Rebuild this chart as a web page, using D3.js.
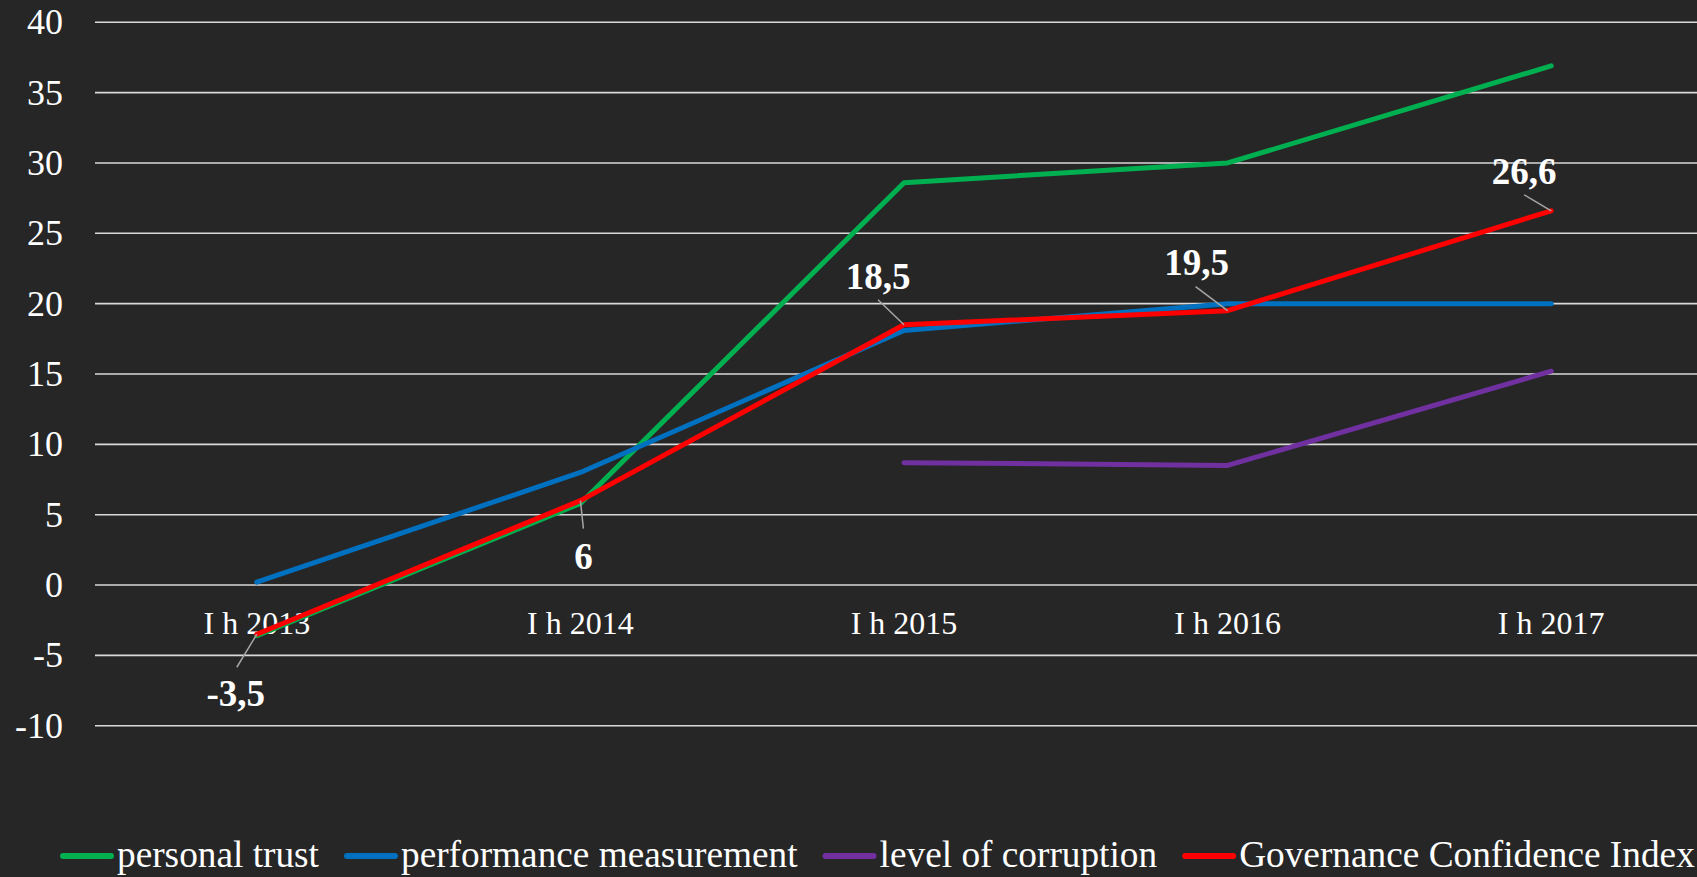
<!DOCTYPE html>
<html>
<head>
<meta charset="utf-8">
<script src="https://cdn.jsdelivr.net/npm/d3@7"></script>
<style>
  html, body { margin: 0; padding: 0; background: #262626; overflow: hidden; }
  svg { display: block; font-family: "Liberation Serif", "Times New Roman", serif; }
</style>
</head>
<body>
<script>
const categories = ["I h 2013", "I h 2014", "I h 2015", "I h 2016", "I h 2017"];
const personalTrust = [-3.6, 5.8, 28.6, 30, 36.9];
const performanceMeasurement = [0.2, 8, 18.1, 20, 20];
const levelOfCorruption = [null, null, 8.7, 8.5, 15.2];
const governanceIndex = [-3.5, 6, 18.5, 19.5, 26.6];
const governanceLabels = ["-3,5", "6", "18,5", "19,5", "26,6"];
const yTicks = [-10, -5, 0, 5, 10, 15, 20, 25, 30, 35, 40];

const seriesNames = ["personal trust", "performance measurement", "level of corruption", "Governance Confidence Index"];
const seriesColors = ["#00b050", "#0070c0", "#7030a0", "#ff0000"];
const seriesValues = [personalTrust, performanceMeasurement, levelOfCorruption, governanceIndex];

// label placement relative to the point: [dx, dy] of text, [dx, dy] of leader start
const labelOffsets = [
  [-21, 72, -20, 33],
  [3, 68, 3, 28],
  [-26, -36, -26, -25],
  [-31, -36, -32, -24],
  [-27, -27, -27, -16]
];

const width = 1697;
const height = 877;
const margin = { top: 22.3, left: 95, right: -16, bottom: 151.3 };

const svg = d3.select("body").append("svg")
  .attr("width", width)
  .attr("height", height);

svg.append("rect").attr("width", width).attr("height", height).attr("fill", "#262626");

const x = d3.scalePoint()
  .domain(categories)
  .range([margin.left, width - margin.right])
  .padding(0.5);

const y = d3.scaleLinear()
  .domain([-10, 40])
  .range([height - margin.bottom, margin.top]);

// grid
svg.append("g")
  .selectAll("line")
  .data(yTicks)
  .join("line")
  .attr("x1", margin.left)
  .attr("x2", width - margin.right)
  .attr("y1", d => y(d))
  .attr("y2", d => y(d))
  .attr("stroke", "#d9d9d9")
  .attr("stroke-width", 1.6);

// y tick labels
svg.append("g")
  .selectAll("text")
  .data(yTicks)
  .join("text")
  .attr("x", 63)
  .attr("y", d => y(d) + 12)
  .attr("text-anchor", "end")
  .attr("fill", "#ffffff")
  .attr("font-size", 36)
  .text(d => d);

// category labels
svg.append("g")
  .selectAll("text")
  .data(categories)
  .join("text")
  .attr("x", d => x(d))
  .attr("y", y(0) + 48.5)
  .attr("text-anchor", "middle")
  .attr("fill", "#ffffff")
  .attr("font-size", 32)
  .text(d => d);

const line = d3.line()
  .defined(d => d[1] != null)
  .x(d => x(d[0]))
  .y(d => y(d[1]));

svg.append("g")
  .selectAll("path")
  .data(seriesValues)
  .join("path")
  .attr("d", vals => line(vals.map((v, i) => [categories[i], v])))
  .attr("fill", "none")
  .attr("stroke", (d, i) => seriesColors[i])
  .attr("stroke-width", 5)
  .attr("stroke-linecap", "round")
  .attr("stroke-linejoin", "round");

// data labels for the index
const lbl = svg.append("g");
lbl.selectAll("line")
  .data(governanceIndex)
  .join("line")
  .attr("x1", (d, i) => x(categories[i]) + labelOffsets[i][2])
  .attr("y1", (d, i) => y(d) + labelOffsets[i][3])
  .attr("x2", (d, i) => x(categories[i]))
  .attr("y2", d => y(d))
  .attr("stroke", "#a6a6a6")
  .attr("stroke-width", 1.5);

lbl.selectAll("text")
  .data(governanceIndex)
  .join("text")
  .attr("x", (d, i) => x(categories[i]) + labelOffsets[i][0])
  .attr("y", (d, i) => y(d) + labelOffsets[i][1])
  .attr("text-anchor", "middle")
  .attr("fill", "#ffffff")
  .attr("font-size", 37)
  .attr("font-weight", "bold")
  .text((d, i) => governanceLabels[i]);

// legend
const legend = svg.append("g");
let lx = 60;
const ly = 856;
seriesNames.forEach((name, i) => {
  legend.append("line")
    .attr("x1", lx + 3).attr("x2", lx + 51)
    .attr("y1", ly).attr("y2", ly)
    .attr("stroke", seriesColors[i])
    .attr("stroke-width", 6)
    .attr("stroke-linecap", "round");
  const t = legend.append("text")
    .attr("x", lx + 57)
    .attr("y", ly + 11)
    .attr("fill", "#ffffff")
    .attr("font-size", 37.3)
    .text(name);
  lx += 57 + t.node().getComputedTextLength() + 25;
});
</script>
</body>
</html>
